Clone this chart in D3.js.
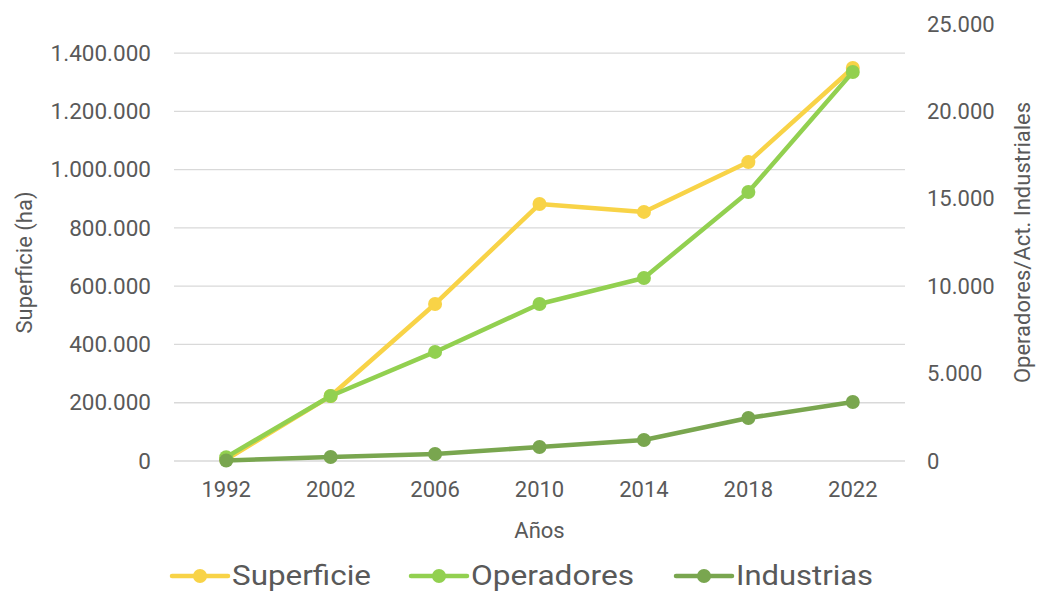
<!DOCTYPE html>
<html>
<head>
<meta charset="utf-8">
<script src="https://cdn.jsdelivr.net/npm/d3@7"></script>
<style>
  body { margin: 0; background: #fff; }
  text { font-family: Roboto, "Liberation Sans", sans-serif; fill: #595959; }
</style>
</head>
<body>
<script>
const years = ["1992", "2002", "2006", "2010", "2014", "2018", "2022"];
const superficie = [5000, 223000, 539000, 882000, 855000, 1026000, 1349000];
const operadores = [220, 3720, 6240, 8980, 10470, 15390, 22250];
const industrias = [30, 230, 400, 800, 1200, 2460, 3375];
const leftTicks = [0, 200000, 400000, 600000, 800000, 1000000, 1200000, 1400000];
const rightTicks = [0, 5000, 10000, 15000, 20000, 25000];

const series = [
    {name: "Superficie", values: superficie, axis: "left", color: "#F8D347"},
    {name: "Operadores", values: operadores, axis: "right", color: "#92D050"},
    {name: "Industrias", values: industrias, axis: "right", color: "#79A64F"}
];

const W = 1038, H = 592;
const plot = {left: 174, right: 905, top: 24, bottom: 461};
const fmt = v => d3.format(",")(v).replace(/,/g, ".");

const svg = d3.select("body").append("svg")
    .attr("width", W)
    .attr("height", H);

const x = d3.scaleBand().domain(years).range([plot.left, plot.right]);
const yL = d3.scaleLinear().domain([0, 1500000]).range([plot.bottom, plot.top]);
const yR = d3.scaleLinear().domain([0, 25000]).range([plot.bottom, plot.top]);

// gridlines from the left axis
svg.append("g")
    .selectAll("line")
    .data(leftTicks)
    .enter()
    .append("line")
    .attr("x1", plot.left).attr("x2", plot.right)
    .attr("y1", d => yL(d)).attr("y2", d => yL(d))
    .attr("stroke", "#D9D9D9")
    .attr("stroke-width", 1.3);

// left axis
const leftAxis = svg.append("g")
    .attr("transform", `translate(${plot.left}, 0)`)
    .call(d3.axisLeft(yL).tickValues(leftTicks).tickFormat(fmt).tickSize(0).tickPadding(23));
leftAxis.select(".domain").remove();
leftAxis.selectAll("text").style("font-size", "22.5px").attr("fill", "#595959");

// right axis
const rightAxis = svg.append("g")
    .attr("transform", `translate(${plot.right}, 0)`)
    .call(d3.axisRight(yR).tickValues(rightTicks).tickFormat(fmt).tickSize(0).tickPadding(22));
rightAxis.select(".domain").remove();
rightAxis.selectAll("text").style("font-size", "22px").attr("fill", "#595959");

// x axis
const xAxis = svg.append("g")
    .attr("transform", `translate(0, ${plot.bottom})`)
    .call(d3.axisBottom(x).tickSize(0).tickPadding(20));
xAxis.select(".domain").remove();
xAxis.selectAll("text").style("font-size", "22px").attr("fill", "#595959");

// axis titles
svg.append("text")
    .attr("x", (plot.left + plot.right) / 2)
    .attr("y", 538)
    .attr("text-anchor", "middle")
    .style("font-size", "22px")
    .text("Años");

svg.append("text")
    .attr("transform", `translate(32, ${(plot.top + plot.bottom) / 2 + 20}) rotate(-90)`)
    .attr("text-anchor", "middle")
    .style("font-size", "22px")
    .text("Superficie (ha)");

svg.append("text")
    .attr("transform", `translate(1030, ${(plot.top + plot.bottom) / 2}) rotate(-90)`)
    .attr("text-anchor", "middle")
    .style("font-size", "22px")
    .text("Operadores/Act. Industriales");

// lines and markers
series.forEach(s => {
    const y = s.axis === "left" ? yL : yR;
    const line = d3.line()
        .x((d, i) => x(years[i]) + x.bandwidth() / 2)
        .y(d => y(d));
    const g = svg.append("g");
    g.append("path")
        .datum(s.values)
        .attr("fill", "none")
        .attr("stroke", s.color)
        .attr("stroke-width", 4.5)
        .attr("stroke-linejoin", "round")
        .attr("d", line);
    g.selectAll("circle")
        .data(s.values)
        .enter()
        .append("circle")
        .attr("cx", (d, i) => x(years[i]) + x.bandwidth() / 2)
        .attr("cy", d => y(d))
        .attr("r", 7)
        .attr("fill", s.color);
});

// legend
const legendX = [172, 411, 676];
const legendW = [139, 163, 137];
const legend = svg.append("g");
series.forEach((s, i) => {
    const g = legend.append("g").attr("transform", `translate(${legendX[i]}, 576)`);
    g.append("line")
        .attr("x1", 0).attr("x2", 56)
        .attr("stroke", s.color)
        .attr("stroke-width", 4.5)
        .attr("stroke-linecap", "round");
    g.append("circle").attr("cx", 28).attr("r", 7).attr("fill", s.color);
    g.append("text")
        .attr("x", 60)
        .attr("y", 9)
        .attr("textLength", legendW[i])
        .attr("lengthAdjust", "spacingAndGlyphs")
        .style("font-size", "27px")
        .text(s.name);
});
</script>
</body>
</html>
